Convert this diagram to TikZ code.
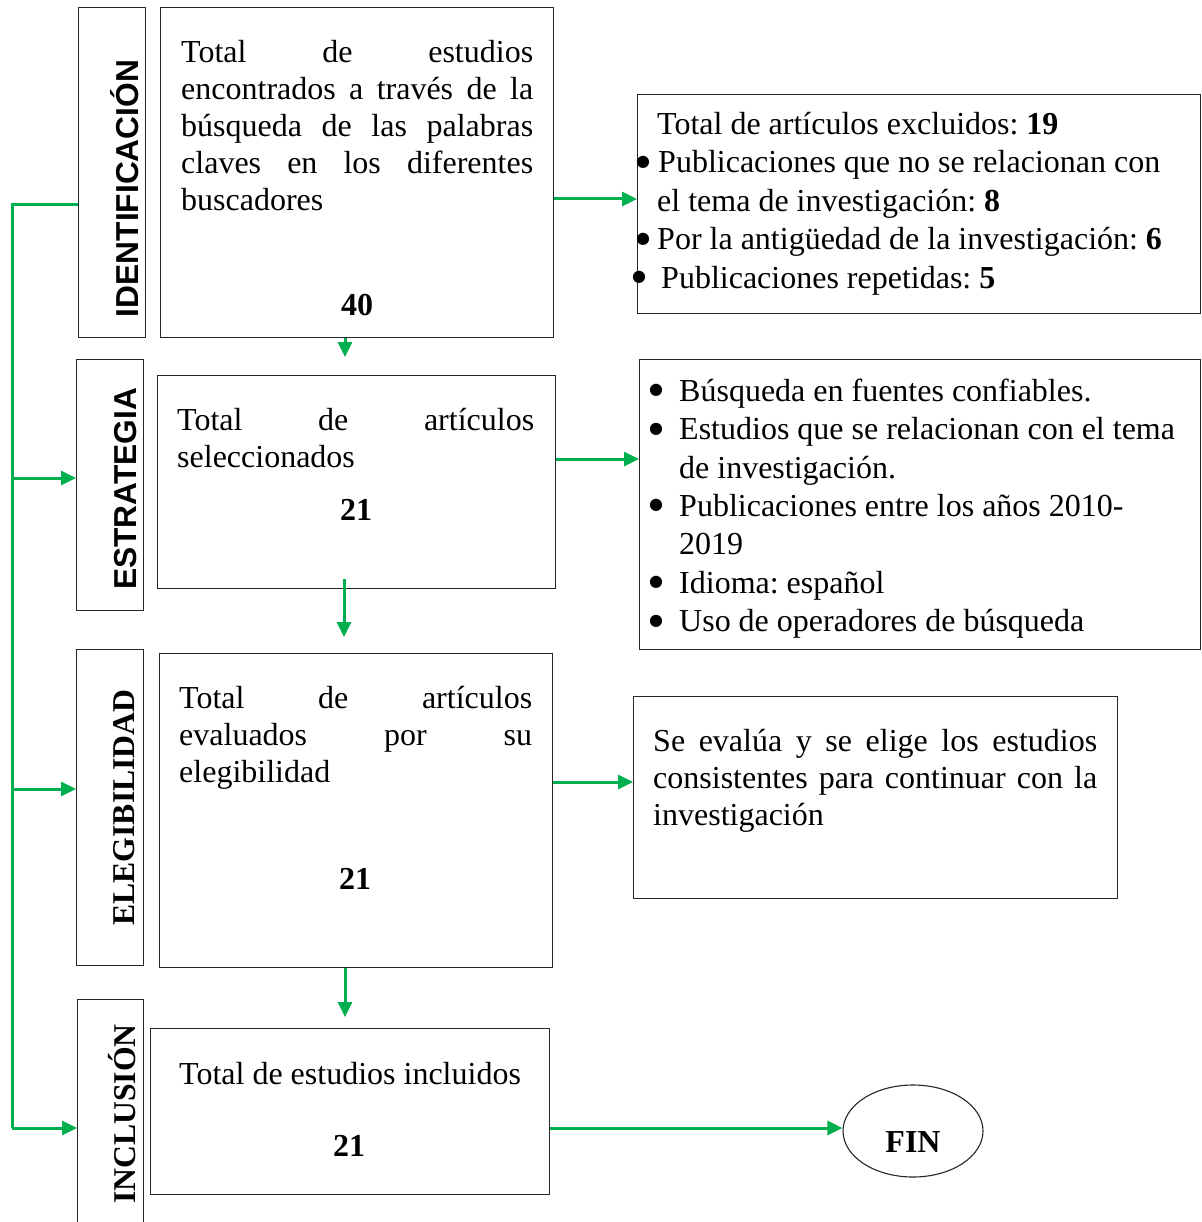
\documentclass[tikz,border=0pt]{standalone}
\usepackage{fontspec}
\setmainfont{Liberation Serif}
\newfontfamily\arialf{Liberation Sans}
\newfontfamily\dejavu{DejaVu Sans}
\usetikzlibrary{arrows.meta,shapes.geometric}
\definecolor{wgreen}{RGB}{0,176,80}
\newcommand{\jl}[2]{\makebox[#1][s]{#2}}
\newcommand{\fixsp}{\spaceskip=0pt\xspaceskip=0pt\frenchspacing}
\newcommand{\bul}{\makebox[0pt][c]{\dejavu\fontsize{16}{16}\selectfont\raisebox{6.5pt}{●}}}
\begin{document}
\begin{tikzpicture}[x=1pt,y=-1pt,
  box/.style={draw=black!85,line width=1.3pt,inner sep=0pt,anchor=north west},
  lbox/.style={box},
  fin/.style={draw=black!85,line width=1.1pt,ellipse,inner sep=0pt,minimum width=140pt,minimum height=92pt},
  txt/.style={inner sep=0pt,anchor=north west,align=left,font={\fontsize{32}{37}\selectfont\parindent=0pt}},
  txtb/.style={inner sep=0pt,anchor=north west,align=left,font={\fontsize{32}{38.4}\selectfont\parindent=0pt}},
  num/.style={inner sep=0pt,anchor=base,font={\fontsize{32}{37}\selectfont\bfseries}},
  one/.style={inner sep=0pt,anchor=base west,font={\fontsize{32}{37}\selectfont}},
  vlabs/.style={inner sep=0pt,anchor=base,rotate=90,font={\fontsize{31.7}{37}\selectfont\arialf\bfseries}},
  vlabr/.style={inner sep=0pt,anchor=base,rotate=90,font={\fontsize{31.7}{37}\selectfont\bfseries}},
  gline/.style={draw=wgreen,line width=3pt},
  garrow/.style={draw=wgreen,line width=3pt,-{Triangle[length=15pt,width=14pt]}}]
\useasboundingbox (0,0) rectangle (1201,1222);

% left label boxes
\node[lbox,minimum width=67pt,minimum height=330pt] (idl) at (78,7) {};
\node[lbox,minimum width=67pt,minimum height=251pt] (esl) at (76,359) {};
\node[lbox,minimum width=67pt,minimum height=316pt] (ell) at (76,649) {};
\node[lbox,minimum width=66pt,minimum height=235pt] (inl) at (77,999) {};
\node[vlabs] (idlt) at (138,188.5) {IDENTIFICACIÓN};
\node[vlabs] (eslt) at (136,489) {ESTRATEGIA};
\node[vlabr] (ellt) at (134,807.5) {ELEGIBILIDAD};
\node[vlabr] (inlt) at (135,1114) {INCLUSIÓN};

% main boxes
\node[box,minimum width=393pt,minimum height=330pt] (idb) at (160,7) {};
\node[box,minimum width=398pt,minimum height=213pt] (esb) at (157,375) {};
\node[box,minimum width=393pt,minimum height=314pt] (elb) at (159,653) {};
\node[box,minimum width=399pt,minimum height=166pt] (inb) at (150,1028) {};

\node[txt,text width=360pt] (idt) at (181,36.1) {\fixsp\strut\jl{352pt}{Total\hfill de\hfill estudios}\\
\jl{352pt}{encontrados a través de la}\\
\jl{352pt}{búsqueda de las palabras}\\
\jl{352pt}{claves en los diferentes}\\
buscadores};
\node[num] (idn) at (357,316) {40};

\node[txt,text width=365pt] (est) at (177,404.1) {\fixsp\strut\jl{357pt}{Total\hfill de\hfill artículos}\\
seleccionados};
\node[num] (esn) at (356,520) {21};

\node[txt,text width=360pt] (elt) at (179,682.1) {\fixsp\strut\jl{353pt}{Total\hfill de\hfill artículos}\\
\jl{353pt}{evaluados\hfill por\hfill su}\\
elegibilidad};
\node[num] (eln) at (355,889) {21};

\node[one] (int) at (179,1084) {\fixsp Total de estudios incluidos};
\node[num] (inn) at (349,1156) {21};

% right boxes
\node[box,minimum width=563pt,minimum height=219pt] (exb) at (637,94) {};
\node[box,minimum width=561pt,minimum height=290pt] (crb) at (639,359) {};
\node[box,minimum width=484pt,minimum height=202pt] (evb) at (633,696) {};

\node[txtb,text width=555pt,font={\fontsize{32}{38.5}\selectfont\parindent=0pt}] (ext) at (641,107) {\fixsp\strut\hspace*{16pt}Total de artículos excluidos: \textbf{19}\\
\hspace*{2pt}\bul\hspace*{15pt}Publicaciones que no se relacionan con\\
\hspace*{16pt}el tema de investigación: \textbf{8}\\
\hspace*{2pt}\bul\hspace*{14pt}Por la antigüedad de la investigación: \textbf{6}\\
\hspace*{-2pt}\bul\hspace*{22pt}Publicaciones repetidas: \textbf{5}};

\node[txtb,text width=545pt] (crt) at (650,374.2) {\fixsp\strut\hspace*{6pt}\bul\hspace*{23pt}Búsqueda en fuentes confiables.\\
\hspace*{6pt}\bul\hspace*{23pt}Estudios que se relacionan con el tema\\
\hspace*{29pt}de investigación.\\
\hspace*{6pt}\bul\hspace*{23pt}Publicaciones entre los años 2010-\\
\hspace*{29pt}2019\\
\hspace*{6pt}\bul\hspace*{23pt}Idioma: español\\
\hspace*{6pt}\bul\hspace*{23pt}Uso de operadores de búsqueda};

\node[txt,text width=450pt] (evt) at (653,725.1) {\fixsp\strut\jl{444pt}{Se evalúa y se elige los estudios}\\
\jl{444pt}{consistentes para continuar con la}\\
investigación};

\node[fin] (fin) at (913,1131) {};
\node[num] (fint) at (913,1152) {FIN};

% connectors
\coordinate (h1) at (0,199);
\coordinate (h2) at (0,459);
\coordinate (h3) at (0,782);
\coordinate (h4) at (0,1128);
\draw[garrow] (idb.east|-h1) -- (exb.west|-h1);
\draw[garrow] (esb.east|-h2) -- (crb.west|-h2);
\draw[garrow] (elb.east|-h3) -- (evb.west|-h3);
\draw[garrow] (inb.east|-h4) -- (fin.west|-h4);

\coordinate (v1) at (345,0);
\coordinate (v2) at (344,0);
\coordinate (v3) at (345,0);
\draw[garrow,shorten >=18pt] (v1|-idb.south) -- (v1|-esb.north);
\draw[garrow,shorten <=-10pt,shorten >=16pt] (v2|-esb.south) -- (v2|-elb.north);
\draw[garrow,shorten >=11pt] (v3|-elb.south) -- (v3|-inb.north);

\coordinate (b0) at (12,205);
\coordinate (b1) at (12,478);
\coordinate (b2) at (12,789);
\coordinate (b3) at (12,1128);
\draw[gline] (idl.west|-b0) -- (b0) -- (b3);
\draw[garrow] (b1) -- (b1-|esl.west);
\draw[garrow] (b2) -- (b2-|ell.west);
\draw[garrow] (b3) -- (b3-|inl.west);
\end{tikzpicture}
\end{document}
